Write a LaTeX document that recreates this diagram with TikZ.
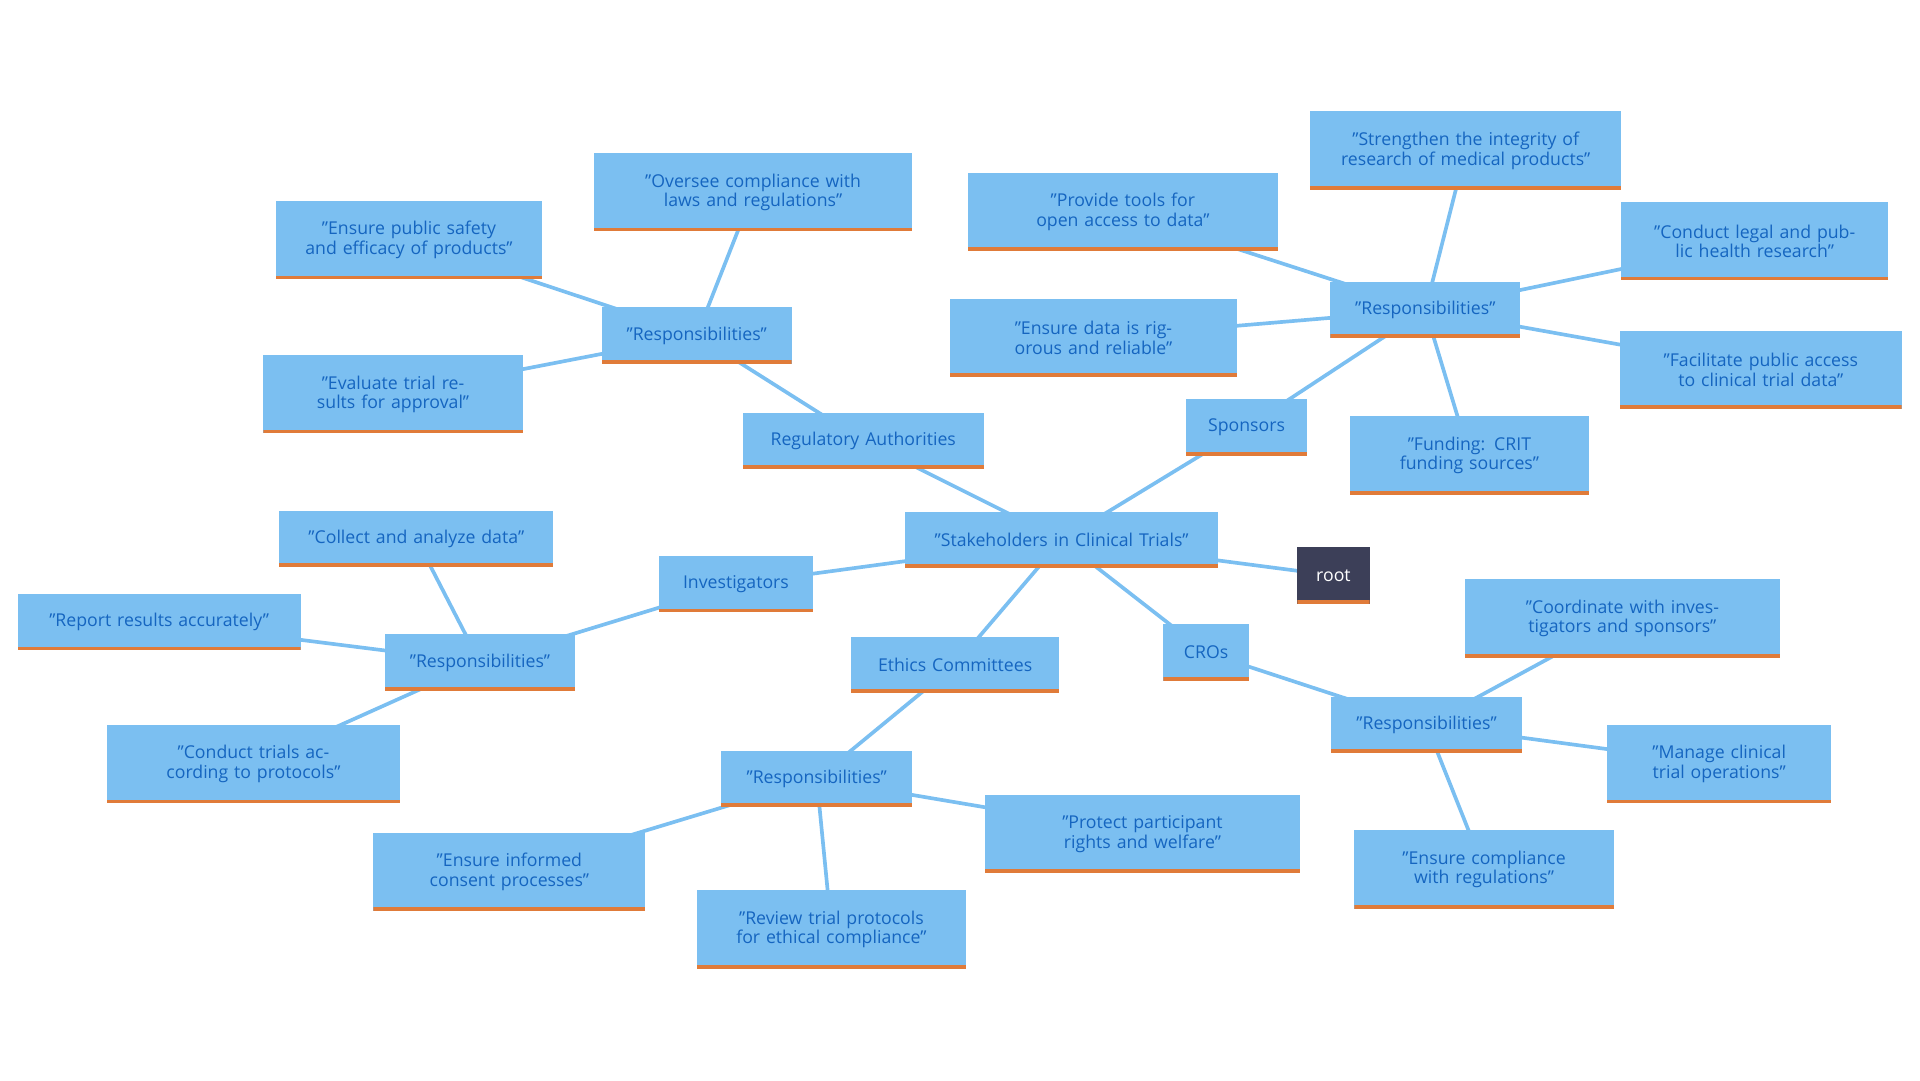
\documentclass[tikz,border=0pt]{standalone}
\usepackage{fontspec}
\setmainfont{Open Sans}
\usetikzlibrary{backgrounds}
\definecolor{boxc}{HTML}{7BBFF1}
\definecolor{txtc}{HTML}{1565C0}
\definecolor{orc}{HTML}{E07B39}
\definecolor{rootc}{HTML}{3C3F58}
\definecolor{edgec}{HTML}{7BBFF1}
\tikzset{
  bx/.style={rectangle, fill=boxc, text=txtc, inner sep=0pt, align=center,
    font=\fontsize{14.5}{16}\selectfont,
    path picture={\fill[orc] (path picture bounding box.south west) rectangle ([yshift=3bp]path picture bounding box.south east);}},
  rootbx/.style={bx, fill=rootc, text=white},
  edge/.style={draw=edgec, line width=3bp}
}
\newcommand{\nd}[7][bx]{\node[#1, minimum width=#5bp, minimum height=#6bp, text width=#5bp-16bp] (#2) at (#3,#4) {#7};}
\begin{document}
\begin{tikzpicture}[x=1bp,y=-1bp]
\useasboundingbox (0,0) rectangle (1568,882);
\nd[rootbx]{root}{1089}{470}{59}{46}{root}
\nd{st}{867}{441}{256}{46}{"Stakeholders in Clinical Trials"}
\nd{ra}{705}{360}{197}{46}{Regulatory Authorities}
\nd{sp}{1018}{349}{99}{46}{Sponsors}
\nd{inv}{601}{477}{126}{46}{Investigators}
\nd{ec}{780}{543}{170}{46}{Ethics Committees}
\nd{cro}{985}{533}{70}{46}{CROs}
\nd{rar}{569}{274}{155}{46}{"Responsibilities"}
\nd{ra1}{615}{157}{260}{64}{"Oversee compliance with laws and regulations"}
\nd{ra2}{334}{196}{217}{64}{"Ensure public safety and efficacy of products"}
\nd{ra3}{321}{322}{212}{64}{"Evaluate trial results for approval"}
\nd{spr}{1164}{253}{155}{46}{"Responsibilities"}
\nd{sp1}{1197}{123}{254}{64}{"Strengthen the integrity of research of medical products"}
\nd{sp2}{917}{173}{253}{64}{"Provide tools for open access to data"}
\nd{sp3}{1433}{197}{218}{64}{"Conduct legal and public health research"}
\nd{sp4}{893}{276}{235}{64}{"Ensure data is rigorous and reliable"}
\nd{sp5}{1438}{302}{230}{64}{"Facilitate public access to clinical trial data"}
\nd{sp6}{1200}{372}{195}{64}{"Funding: CRIT funding sources"}
\nd{invr}{392}{541}{155}{46}{"Responsibilities"}
\nd{inv1}{340}{440}{224}{46}{"Collect and analyze data"}
\nd{inv2}{130}{508}{231}{46}{"Report results accurately"}
\nd{inv3}{207}{624}{239}{64}{"Conduct trials according to protocols"}
\nd{ecr}{667}{636}{156}{46}{"Responsibilities"}
\nd{ec1}{933}{681}{257}{64}{"Protect participant rights and welfare"}
\nd{ec2}{416}{712}{222}{64}{"Ensure informed consent processes"}
\nd{ec3}{679}{759}{220}{64}{"Review trial protocols for ethical compliance"}
\nd{cror}{1165}{592}{156}{46}{"Responsibilities"}
\nd{cro1}{1325}{505}{257}{64}{"Coordinate with investigators and sponsors"}
\nd{cro2}{1404}{624}{183}{64}{"Manage clinical trial operations"}
\nd{cro3}{1212}{710}{212}{64}{"Ensure compliance with regulations"}
\begin{scope}[on background layer]
\foreach \a/\b in {root/st, st/ra, st/sp, st/inv, st/ec, st/cro,
  ra/rar, rar/ra1, rar/ra2, rar/ra3,
  sp/spr, spr/sp1, spr/sp2, spr/sp3, spr/sp4, spr/sp5, spr/sp6,
  inv/invr, invr/inv1, invr/inv2, invr/inv3,
  ec/ecr, ecr/ec1, ecr/ec2, ecr/ec3,
  cro/cror, cror/cro1, cror/cro2, cror/cro3}
  \draw[edge] (\a.center) -- (\b.center);
\end{scope}
\end{tikzpicture}
\end{document}
